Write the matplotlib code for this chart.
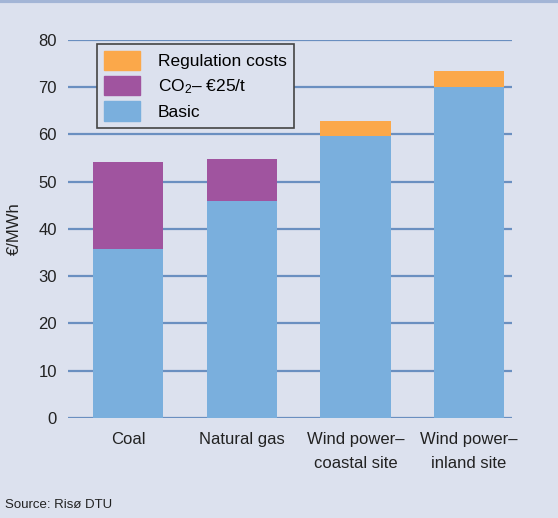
import numpy as np
import matplotlib
matplotlib.use("Agg")
import matplotlib.pyplot as plt
from matplotlib.patches import Patch

plt.rcParams['font.family'] = ['Liberation Sans', 'DejaVu Sans']
plt.rcParams['mathtext.fontset'] = 'custom'
plt.rcParams['mathtext.rm'] = 'Liberation Sans'
plt.rcParams['mathtext.it'] = 'Liberation Sans'

# Données
categories = ['Coal', 'Natural gas', 'Wind power–\ncoastal site', 'Wind power–\ninland site']
basic = [35.8, 45.9, 59.7, 70.0]
co2 = [18.4, 8.9, 0.0, 0.0]
regulation = [0.0, 0.0, 3.2, 3.4]

bg = '#dce1ee'
c_basic = '#7aafdd'
c_co2 = '#a0549f'
c_reg = '#fba84a'
grid_col = '#6a8fc0'

fig = plt.figure(figsize=(5.58, 5.18), dpi=100, facecolor=bg)
ax = fig.add_axes([0.122, 0.193, 0.796, 0.730])
ax.set_facecolor(bg)

x = np.arange(len(categories))
w = 0.62
ax.bar(x, basic, w, color=c_basic, zorder=3)
ax.bar(x, co2, w, bottom=basic, color=c_co2, zorder=3)
ax.bar(x, regulation, w, bottom=np.array(basic) + np.array(co2), color=c_reg, zorder=3)

ax.set_ylim(0, 80)
ax.set_xlim(-0.53, 3.38)
ax.set_yticks(range(0, 81, 10))
ax.yaxis.grid(True, color=grid_col, linewidth=1.6, zorder=1)
ax.set_xticks(x)
ax.set_xticklabels(categories, fontsize=12, linespacing=1.75)
ax.tick_params(axis='both', length=0, labelsize=12, colors='#222222')
ax.tick_params(axis='y', pad=8)
ax.tick_params(axis='x', pad=10)
for s in ax.spines.values():
    s.set_visible(False)
ax.set_ylabel('€/MWh', fontsize=12, color='#222222', labelpad=12)

handles = [Patch(color=c_reg, label='Regulation costs'),
           Patch(color=c_co2, label='CO$_2$– €25/t'),
           Patch(color=c_basic, label='Basic')]
leg = ax.legend(handles=handles, loc='upper left', bbox_to_anchor=(0.065, 0.99),
                fontsize=12.5, frameon=True, fancybox=False, handlelength=2.1,
                handleheight=1.35, labelspacing=0.32, borderpad=0.4, handletextpad=1.0,
                borderaxespad=0)
leg.get_frame().set_facecolor(bg)
leg.get_frame().set_edgecolor('#444444')
leg.get_frame().set_alpha(1)
leg.get_frame().set_linewidth(1.2)
leg.set_zorder(5)

fig.text(0.009, 0.02, 'Source: Risø DTU', fontsize=9.5, color='#222222')
fig.add_artist(plt.Line2D([0, 1], [0.998, 0.998], color='#a3b5d6', linewidth=3,
                          transform=fig.transFigure))

fig.savefig('out.png', dpi=100, facecolor=bg)
